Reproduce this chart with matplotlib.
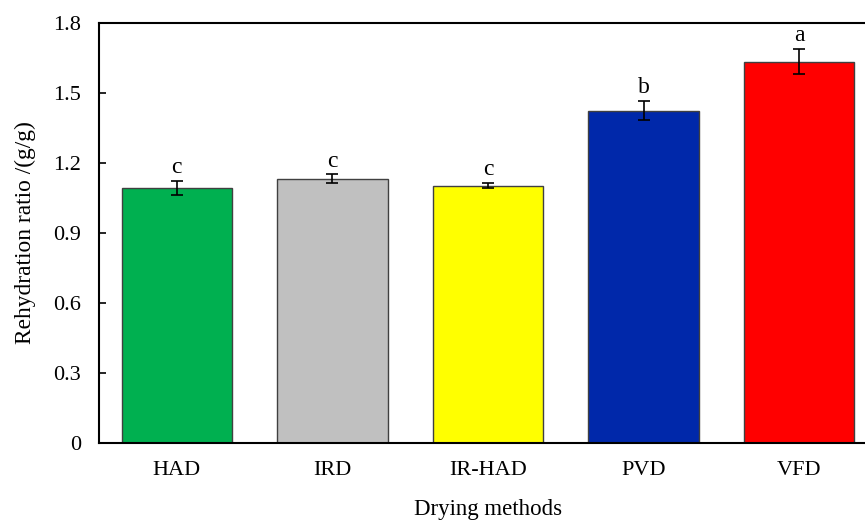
import matplotlib
matplotlib.use('Agg')
import matplotlib.pyplot as plt

plt.rcParams['font.family'] = ['Liberation Serif', 'DejaVu Serif']

methods = ['HAD', 'IRD', 'IR-HAD', 'PVD', 'VFD']
ratio = [1.095, 1.133, 1.103, 1.425, 1.635]
err = [0.03, 0.018, 0.012, 0.042, 0.055]
letters = ['c', 'c', 'c', 'b', 'a']
colors = ['#00B050', '#C0C0C0', '#FFFF00', '#0028AA', '#FF0000']
yticks = [0, 0.3, 0.6, 0.9, 1.2, 1.5, 1.8]
ytick_labels = ['0', '0.3', '0.6', '0.9', '1.2', '1.5', '1.8']

fig = plt.figure(figsize=(8.65, 5.21), dpi=100)
ax = fig.add_axes([99/865, 78/521, 778/865, 420/521])

x = range(len(methods))
ax.bar(x, ratio, width=0.71, color=colors, edgecolor='#404040', linewidth=1.0, zorder=2)
ax.errorbar(x, ratio, yerr=err, fmt='none', ecolor='black', elinewidth=1.2,
            capsize=4, capthick=1.2, zorder=3)
for i in x:
  ax.annotate(letters[i], (i, ratio[i] + err[i]), xytext=(0, 2), textcoords='offset points',
              ha='center', va='bottom', fontsize=17)

ax.set_xlim(-0.5, 4.5)
ax.set_ylim(0, 1.8)
ax.set_yticks(yticks)
ax.set_yticklabels(ytick_labels)
ax.set_xticks(list(x))
ax.set_xticklabels(methods)
ax.tick_params(axis='y', direction='in', length=5, width=1.2, labelsize=16, pad=13)
ax.tick_params(axis='x', length=0, labelsize=16, pad=13)
for s in ax.spines.values():
  s.set_linewidth(1.5)
ax.set_xlabel('Drying methods', fontsize=16.5, labelpad=14)
ax.set_ylabel('Rehydration ratio /(g/g)', fontsize=16.8, labelpad=12)

plt.savefig('out.png', dpi=100)
